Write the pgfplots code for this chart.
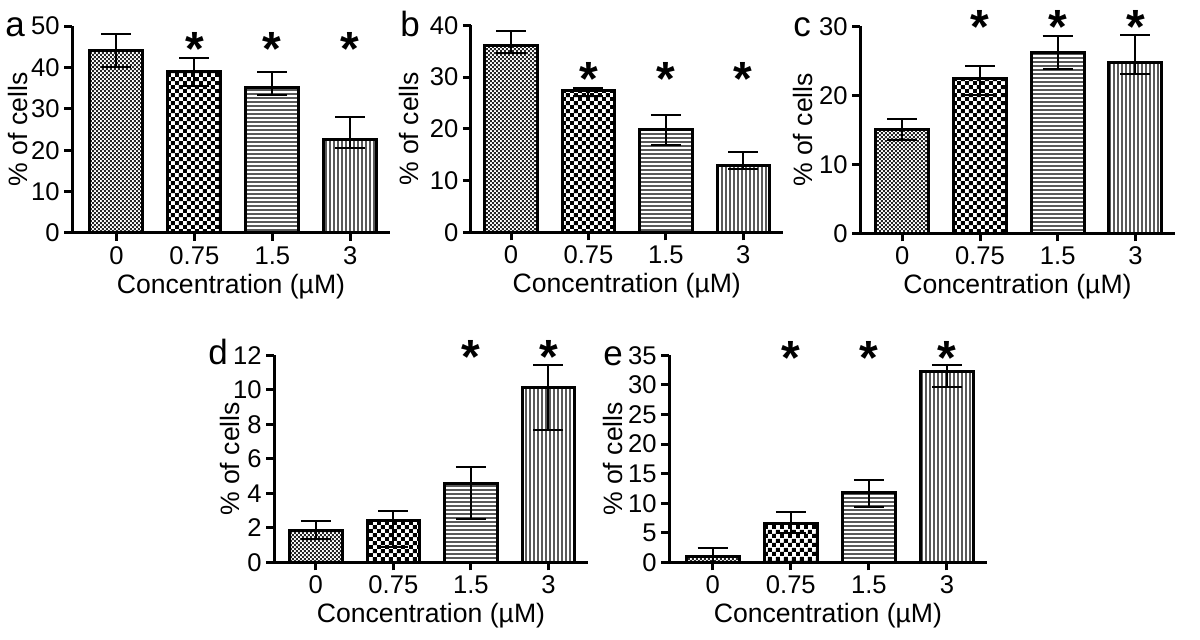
\documentclass[border=0pt]{standalone}
\usepackage{fontspec}
\setmainfont{Liberation Sans}
\usepackage{pgfplots}
\pgfplotsset{compat=1.18}
\usetikzlibrary{patterns}

% bar fills
\pgfdeclarepatternformonly{finecheck}{\pgfpointorigin}{\pgfqpoint{2.2pt}{2.2pt}}{\pgfqpoint{2.2pt}{2.2pt}}{%
  \pgfpathrectangle{\pgfpointorigin}{\pgfqpoint{1.1pt}{1.1pt}}%
  \pgfpathrectangle{\pgfqpoint{1.1pt}{1.1pt}}{\pgfqpoint{1.1pt}{1.1pt}}%
  \pgfusepath{fill}}
\pgfdeclarepatternformonly{coarsecheck}{\pgfpointorigin}{\pgfqpoint{4.2pt}{4.2pt}}{\pgfqpoint{4.2pt}{4.2pt}}{%
  \pgfpathrectangle{\pgfpointorigin}{\pgfqpoint{2.1pt}{2.1pt}}%
  \pgfpathrectangle{\pgfqpoint{2.1pt}{2.1pt}}{\pgfqpoint{2.1pt}{2.1pt}}%
  \pgfusepath{fill}}
\pgfdeclarepatternformonly{hlines}{\pgfqpoint{-0.5pt}{-0.5pt}}{\pgfqpoint{1.5pt}{2.5pt}}{\pgfqpoint{1pt}{2pt}}{%
  \pgfsetlinewidth{0.6pt}%
  \pgfpathmoveto{\pgfqpoint{-0.1pt}{1pt}}\pgfpathlineto{\pgfqpoint{1.1pt}{1pt}}%
  \pgfusepath{stroke}}
\pgfdeclarepatternformonly{vlines}{\pgfqpoint{-0.5pt}{-0.5pt}}{\pgfqpoint{2.5pt}{1.5pt}}{\pgfqpoint{2pt}{1pt}}{%
  \pgfsetlinewidth{0.6pt}%
  \pgfpathmoveto{\pgfqpoint{1pt}{-0.1pt}}\pgfpathlineto{\pgfqpoint{1pt}{1.1pt}}%
  \pgfusepath{stroke}}

\pgfplotsset{
  panel/.style={
    scale only axis, height=103.5pt, anchor=south west,
    axis x line*=bottom, axis y line*=left,
    axis line style={line width=1.5pt},
    xmax=3.51, ymin=0, clip=false,
    xtick={0,1,2,3}, xticklabels={0,0.75,1.5,3},
    tick style={line width=1.5pt, black}, major tick length=4pt, tick align=outside,
    ticklabel style={font=\fontsize{12.8}{14}\selectfont},
    yticklabel style={inner sep=1pt, xshift=-1pt},
    xticklabel style={inner sep=2.5pt},
    /pgf/number format/assume math mode=true,
    xlabel={Concentration (µM)}, ylabel={\% of cells},
    label style={font=\fontsize{13.3}{15}\selectfont},
    xlabel style={at={(axis description cs:0.5,0)}, anchor=base, yshift=-30.3pt},
    ybar, bar width=0.68, bar shift=0pt,
  },
  ylab/.style={ylabel style={at={(axis description cs:-#1,0.5)}, anchor=center}},
  barbase/.style={draw=black, line width=1.5pt,
    error bars/.cd, y dir=both, y explicit,
    error bar style={line width=1pt, black},
    error mark options={rotate=90, mark size=7.5pt, line width=1pt, black}},
  b0/.style={pattern=finecheck, pattern color=black!85, barbase},
  b1/.style={pattern=coarsecheck, pattern color=black, barbase},
  b2/.style={pattern=hlines, pattern color=black!65, barbase},
  b3/.style={pattern=vlines, pattern color=black!65, barbase},
}
\tikzset{
  sigstar/.style={font=\fontsize{24}{24}\selectfont\bfseries, anchor=base, yshift=-11.8pt, inner sep=0pt},
  panelletter/.style={font=\fontsize{17.5}{18}\selectfont, anchor=base west, inner sep=0pt},
}

\begin{document}
\begin{tikzpicture}
\path[use as bounding box] (0,0) rectangle (600pt,-320pt);

% a
\begin{axis}[panel, ylab=0.169, at={(36pt,-116.5pt)}, width=159pt, xmin=-0.57, ymax=50, ytick={0,10,...,50}]
\addplot[b0] coordinates {(0,44.2) += (0,3.8) -= (0,4.2)};
\addplot[b1] coordinates {(1,39.1) += (0,3.2) -= (0,3.6)};
\addplot[b2] coordinates {(2,35.2) += (0,3.8) -= (0,1.9)};
\addplot[b3] coordinates {(3,22.5) += (0,5.4) -= (0,2.0)};
\node[sigstar] at (axis cs:1,46.1) {*};
\node[sigstar] at (axis cs:2,46.1) {*};
\node[sigstar] at (axis cs:3,46.1) {*};
\end{axis}

% b
\begin{axis}[panel, ylab=0.199, at={(235.4pt,-116.2pt)}, width=156pt, xmin=-0.52, ymax=40, ytick={0,10,...,40}]
\addplot[b0] coordinates {(0,36.2) += (0,2.8) -= (0,1.6)};
\addplot[b1] coordinates {(1,27.4) += (0,0.5) -= (0,1.1)};
\addplot[b2] coordinates {(2,19.8) +- (0,2.9)};
\addplot[b3] coordinates {(3,12.9) += (0,2.7) -= (0,0.6)};
\node[sigstar] at (axis cs:1,31.1) {*};
\node[sigstar] at (axis cs:2,31.1) {*};
\node[sigstar] at (axis cs:3,31.1) {*};
\end{axis}

% c
\begin{axis}[panel, ylab=0.181, at={(430pt,-116.7pt)}, width=157.5pt, xmin=-0.545, ymax=30, ytick={0,10,...,30}]
\addplot[b0] coordinates {(0,15.05) += (0,1.55) -= (0,1.45)};
\addplot[b1] coordinates {(1,22.4) += (0,1.8) -= (0,2.3)};
\addplot[b2] coordinates {(2,26.2) += (0,2.35) -= (0,2.4)};
\addplot[b3] coordinates {(3,24.8) += (0,3.9) -= (0,1.75)};
\node[sigstar] at (axis cs:1,30.9) {*};
\node[sigstar] at (axis cs:2,30.9) {*};
\node[sigstar] at (axis cs:3,30.9) {*};
\end{axis}

% d
\begin{axis}[panel, ylab=0.140, at={(137pt,-281.2pt)}, width=157pt, xmin=-0.54, ymax=12, ytick={0,2,...,12}]
\addplot[b0] coordinates {(0,1.83) += (0,0.56) -= (0,0.5)};
\addplot[b1] coordinates {(1,2.41) += (0,0.58) -= (0,1.51)};
\addplot[b2] coordinates {(2,4.57) += (0,0.96) -= (0,2.05)};
\addplot[b3] coordinates {(3,10.16) += (0,1.26) -= (0,2.46)};
\node[sigstar] at (axis cs:2,12.29) {*};
\node[sigstar] at (axis cs:3,12.29) {*};
\end{axis}

% e
\begin{axis}[panel, ylab=0.176, at={(334.5pt,-281.2pt)}, width=158.9pt, xmin=-0.56, ymax=35, ytick={0,5,...,35}]
\addplot[b0] coordinates {(0,0.95) += (0,1.41) -= (0,0.95)};
\addplot[b1] coordinates {(1,6.63) += (0,1.81) -= (0,1.73)};
\addplot[b2] coordinates {(2,11.76) += (0,2.14) -= (0,2.36)};
\addplot[b3] coordinates {(3,32.35) += (0,0.95) -= (0,2.7)};
\node[sigstar] at (axis cs:1,35.8) {*};
\node[sigstar] at (axis cs:2,35.8) {*};
\node[sigstar] at (axis cs:3,35.8) {*};
\end{axis}

\node[panelletter] at (2.5pt,-18.5pt) {a};
\node[panelletter] at (200pt,-18.5pt) {b};
\node[panelletter] at (396.5pt,-18.5pt) {c};
\node[panelletter] at (104pt,-182.5pt) {d};
\node[panelletter] at (301.5pt,-183pt) {e};
\end{tikzpicture}
\end{document}
